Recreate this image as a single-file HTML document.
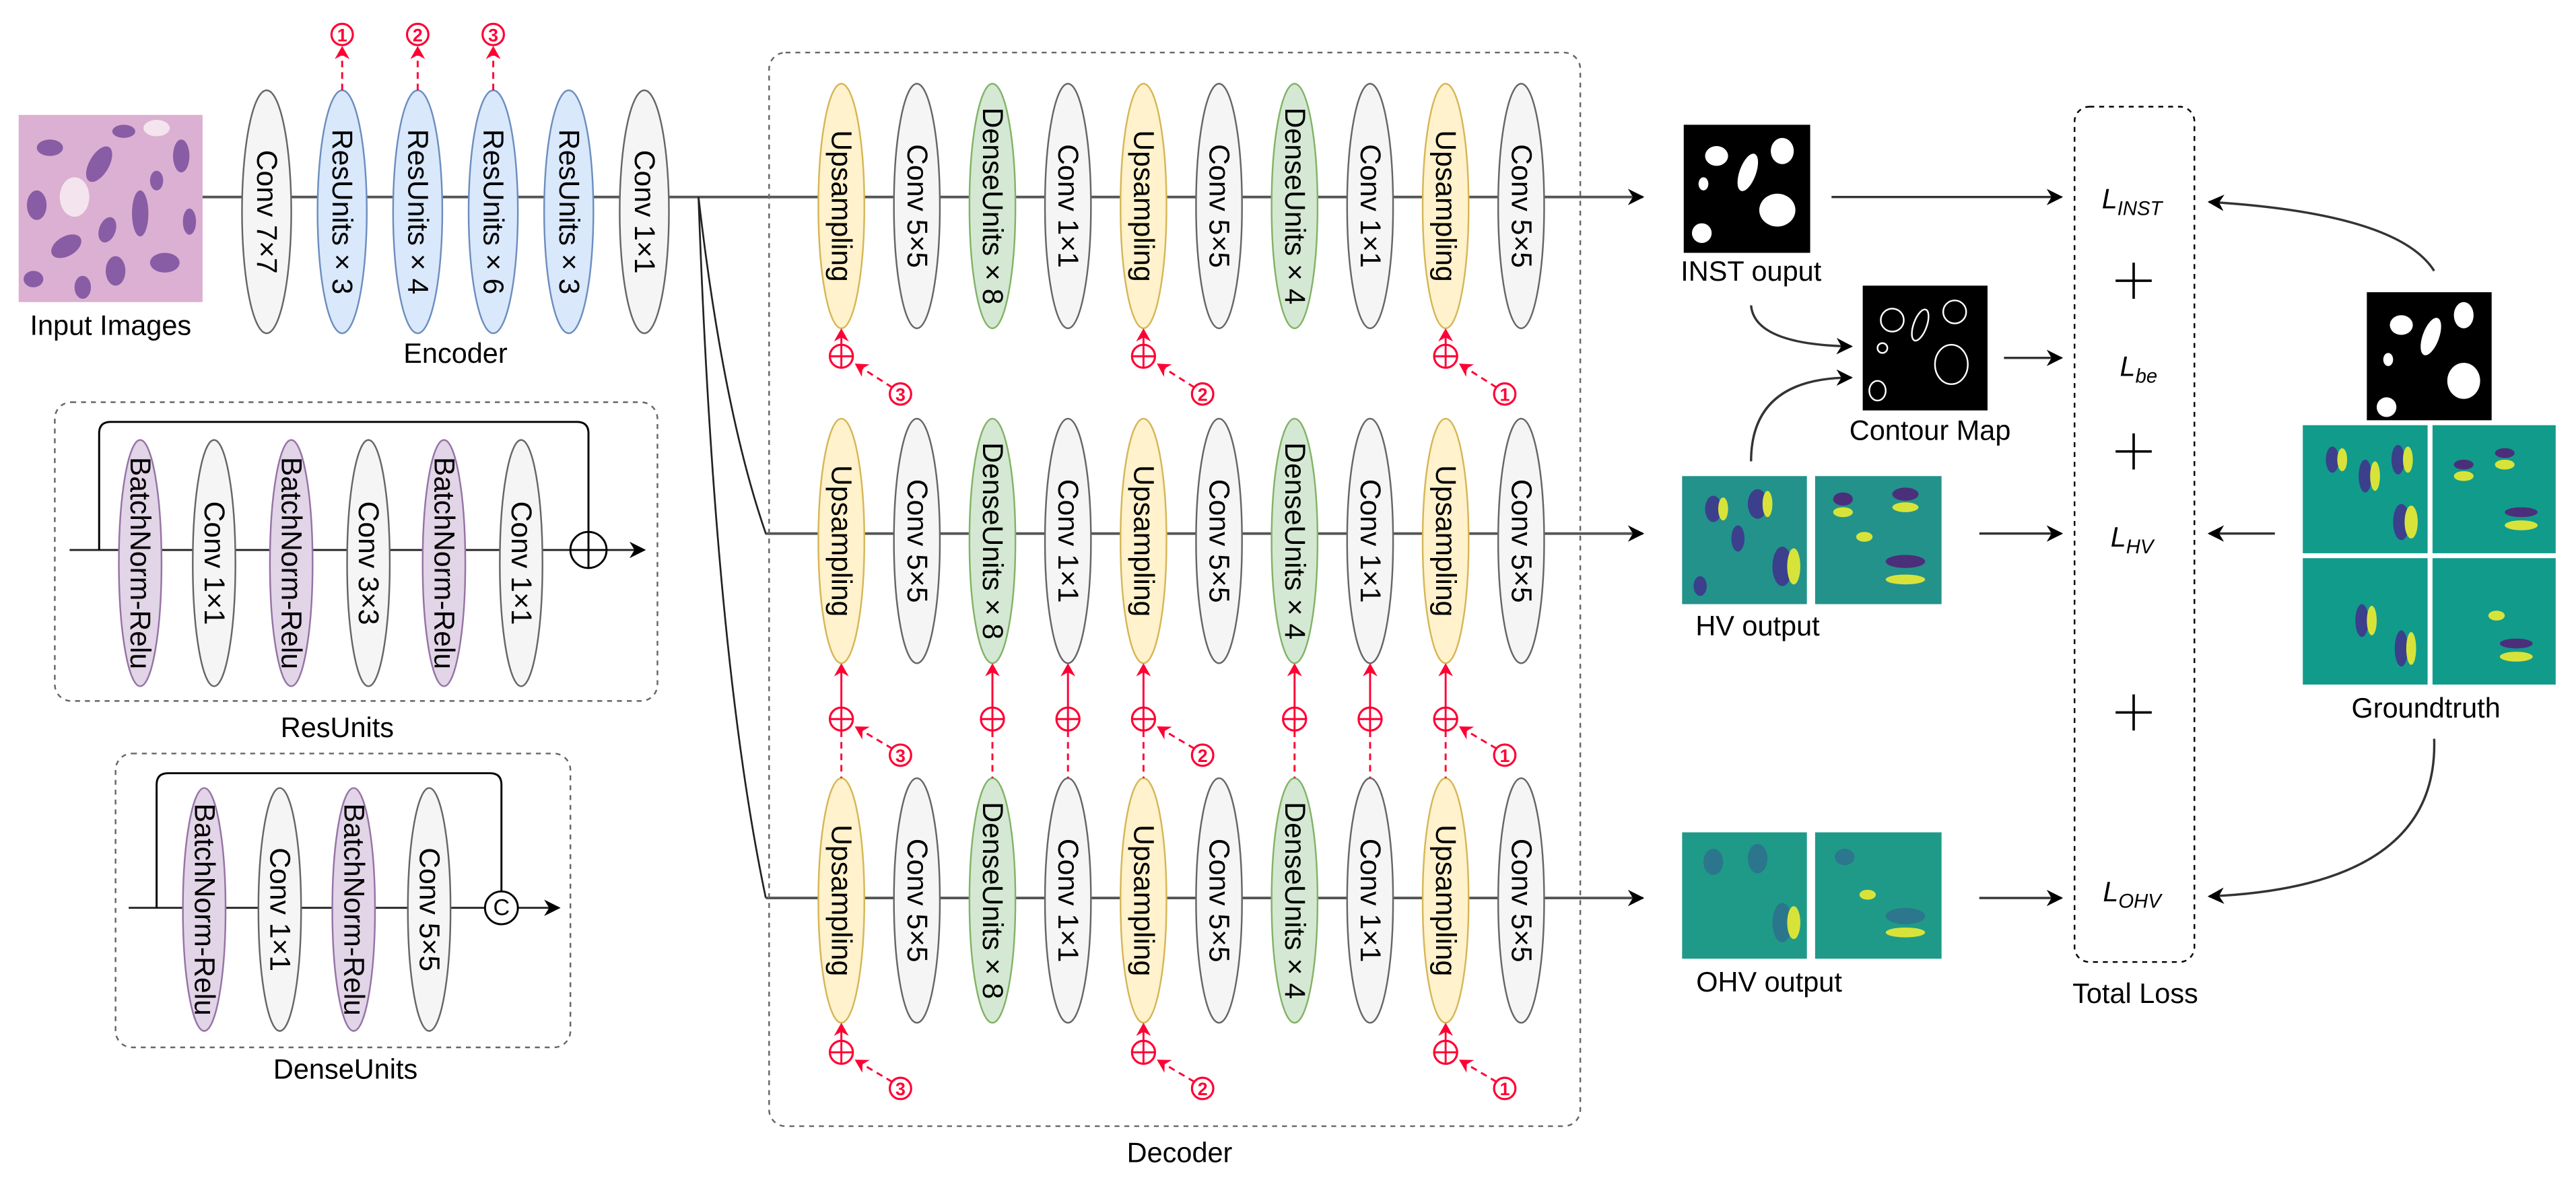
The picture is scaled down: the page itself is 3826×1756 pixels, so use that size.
<!DOCTYPE html>
<html><head><meta charset="utf-8"><style>
html,body{margin:0;padding:0;background:#fff}
svg{display:block}
text{font-family:"Liberation Sans",Arial,sans-serif}
.v{font-size:17.5px;text-anchor:middle;dominant-baseline:central}
.lb{font-size:17px;text-anchor:middle}
.g{fill:#f5f5f5;stroke:#666;stroke-width:1}
.b{fill:#dae8fc;stroke:#6c8ebf;stroke-width:1}
.y{fill:#fff2cc;stroke:#d6b656;stroke-width:1}
.gr{fill:#d5e8d4;stroke:#82b366;stroke-width:1}
.p{fill:#e1d5e7;stroke:#9673a6;stroke-width:1}
.rd{stroke:#f03;stroke-width:1.2;fill:none;stroke-dasharray:4 3}
.rc{fill:#fff;stroke:#f03;stroke-width:1.3}
.rn{fill:#f03;font-size:11px;font-weight:bold;text-anchor:middle;dominant-baseline:central}
</style></head><body>
<svg width="3826" height="1756" viewBox="0 0 1568 720" xmlns="http://www.w3.org/2000/svg">
<defs>
<marker id="ab" markerWidth="10" markerHeight="10" refX="9" refY="5" orient="auto" markerUnits="userSpaceOnUse"><path d="M0,0 L10,5 L0,10 L3,5 z" fill="#000"/></marker>
<marker id="ar" markerWidth="8" markerHeight="9" refX="7" refY="4.5" orient="auto" markerUnits="userSpaceOnUse"><path d="M0,0 L8,4.5 L0,9 L2.5,4.5 z" fill="#f03"/></marker>
<g id="plus"><circle r="7" class="rc"/><path d="M-7,0H7M0,-7V7" stroke="#f03" stroke-width="1.2"/></g>
</defs>

<!-- Input image -->
<rect x="11" y="70" width="112" height="114" fill="#dcb0d2"/>
<g fill="#7a4f9e" opacity="0.85">
<ellipse cx="30" cy="90" rx="8" ry="5"/><ellipse cx="60" cy="100" rx="6" ry="12" transform="rotate(30 60 100)"/>
<ellipse cx="85" cy="130" rx="5" ry="14"/><ellipse cx="100" cy="160" rx="9" ry="6"/>
<ellipse cx="40" cy="150" rx="10" ry="6" transform="rotate(-30 40 150)"/><ellipse cx="110" cy="95" rx="5" ry="10"/>
<ellipse cx="70" cy="165" rx="6" ry="9"/><ellipse cx="22" cy="125" rx="6" ry="9"/><ellipse cx="75" cy="80" rx="7" ry="4"/>
<ellipse cx="50" cy="175" rx="5" ry="7"/><ellipse cx="115" cy="135" rx="4" ry="8"/><ellipse cx="95" cy="110" rx="4" ry="6"/>
<ellipse cx="20" cy="170" rx="6" ry="5"/><ellipse cx="65" cy="140" rx="5" ry="8" transform="rotate(20 65 140)"/>
</g>
<g fill="#f3e4ee"><ellipse cx="45" cy="120" rx="9" ry="12"/><ellipse cx="95" cy="78" rx="8" ry="5"/></g>
<text x="67" y="204" class="lb">Input Images</text>

<!-- Encoder -->
<line x1="123" y1="120" x2="1000" y2="120" stroke="#555" stroke-width="1.6" marker-end="url(#ab)"/>
<ellipse cx="162" cy="129" rx="15" ry="74" class="g"/><text class="v" transform="translate(162,129) rotate(90)">Conv 7×7</text>
<ellipse cx="208" cy="129" rx="15" ry="74" class="b"/><text class="v" transform="translate(208,129) rotate(90)">ResUnits × 3</text>
<ellipse cx="254" cy="129" rx="15" ry="74" class="b"/><text class="v" transform="translate(254,129) rotate(90)">ResUnits × 4</text>
<ellipse cx="300" cy="129" rx="15" ry="74" class="b"/><text class="v" transform="translate(300,129) rotate(90)">ResUnits × 6</text>
<ellipse cx="346" cy="129" rx="15" ry="74" class="b"/><text class="v" transform="translate(346,129) rotate(90)">ResUnits × 3</text>
<ellipse cx="392" cy="129" rx="15" ry="74" class="g"/><text class="v" transform="translate(392,129) rotate(90)">Conv 1×1</text>
<text x="277" y="221" class="lb">Encoder</text>
<g>
<line x1="208" y1="55" x2="208" y2="29" class="rd" marker-end="url(#ar)"/><circle cx="208" cy="21" r="6.5" class="rc"/><text x="208" y="21.5" class="rn">1</text>
<line x1="254" y1="55" x2="254" y2="29" class="rd" marker-end="url(#ar)"/><circle cx="254" cy="21" r="6.5" class="rc"/><text x="254" y="21.5" class="rn">2</text>
<line x1="300" y1="55" x2="300" y2="29" class="rd" marker-end="url(#ar)"/><circle cx="300" cy="21" r="6.5" class="rc"/><text x="300" y="21.5" class="rn">3</text>
</g>

<!-- branches -->
<path d="M425,120 Q440,250 466,325 L1000,325" fill="none" stroke="#222" stroke-width="1.1"/>
<path d="M425,120 Q435,400 466,547" fill="none" stroke="#222" stroke-width="1.1"/>
<line x1="466" y1="325" x2="1000" y2="325" stroke="#555" stroke-width="1.6" marker-end="url(#ab)"/>
<line x1="466" y1="547" x2="1000" y2="547" stroke="#555" stroke-width="1.6" marker-end="url(#ab)"/>

<!-- Decoder box -->
<rect x="468" y="32" width="494" height="654" rx="10" fill="none" stroke="#666" stroke-width="1" stroke-dasharray="3 3"/>
<text x="718" y="708" class="lb">Decoder</text>

<!-- Row 1 -->
<g>
<ellipse cx="512" cy="125.5" rx="14" ry="74.5" class="y"/><text class="v" transform="translate(512,125.5) rotate(90)">Upsampling</text>
<ellipse cx="558" cy="125.5" rx="14" ry="74.5" class="g"/><text class="v" transform="translate(558,125.5) rotate(90)">Conv 5×5</text>
<ellipse cx="604" cy="125.5" rx="14" ry="74.5" class="gr"/><text class="v" transform="translate(604,125.5) rotate(90)">DenseUnits × 8</text>
<ellipse cx="650" cy="125.5" rx="14" ry="74.5" class="g"/><text class="v" transform="translate(650,125.5) rotate(90)">Conv 1×1</text>
<ellipse cx="696" cy="125.5" rx="14" ry="74.5" class="y"/><text class="v" transform="translate(696,125.5) rotate(90)">Upsampling</text>
<ellipse cx="742" cy="125.5" rx="14" ry="74.5" class="g"/><text class="v" transform="translate(742,125.5) rotate(90)">Conv 5×5</text>
<ellipse cx="788" cy="125.5" rx="14" ry="74.5" class="gr"/><text class="v" transform="translate(788,125.5) rotate(90)">DenseUnits × 4</text>
<ellipse cx="834" cy="125.5" rx="14" ry="74.5" class="g"/><text class="v" transform="translate(834,125.5) rotate(90)">Conv 1×1</text>
<ellipse cx="880" cy="125.5" rx="14" ry="74.5" class="y"/><text class="v" transform="translate(880,125.5) rotate(90)">Upsampling</text>
<ellipse cx="926" cy="125.5" rx="14" ry="74.5" class="g"/><text class="v" transform="translate(926,125.5) rotate(90)">Conv 5×5</text>
</g>
<!-- Row 2 -->
<g>
<ellipse cx="512" cy="329.5" rx="14" ry="74.5" class="y"/><text class="v" transform="translate(512,329.5) rotate(90)">Upsampling</text>
<ellipse cx="558" cy="329.5" rx="14" ry="74.5" class="g"/><text class="v" transform="translate(558,329.5) rotate(90)">Conv 5×5</text>
<ellipse cx="604" cy="329.5" rx="14" ry="74.5" class="gr"/><text class="v" transform="translate(604,329.5) rotate(90)">DenseUnits × 8</text>
<ellipse cx="650" cy="329.5" rx="14" ry="74.5" class="g"/><text class="v" transform="translate(650,329.5) rotate(90)">Conv 1×1</text>
<ellipse cx="696" cy="329.5" rx="14" ry="74.5" class="y"/><text class="v" transform="translate(696,329.5) rotate(90)">Upsampling</text>
<ellipse cx="742" cy="329.5" rx="14" ry="74.5" class="g"/><text class="v" transform="translate(742,329.5) rotate(90)">Conv 5×5</text>
<ellipse cx="788" cy="329.5" rx="14" ry="74.5" class="gr"/><text class="v" transform="translate(788,329.5) rotate(90)">DenseUnits × 4</text>
<ellipse cx="834" cy="329.5" rx="14" ry="74.5" class="g"/><text class="v" transform="translate(834,329.5) rotate(90)">Conv 1×1</text>
<ellipse cx="880" cy="329.5" rx="14" ry="74.5" class="y"/><text class="v" transform="translate(880,329.5) rotate(90)">Upsampling</text>
<ellipse cx="926" cy="329.5" rx="14" ry="74.5" class="g"/><text class="v" transform="translate(926,329.5) rotate(90)">Conv 5×5</text>
</g>
<!-- Row 3 -->
<g>
<ellipse cx="512" cy="548.5" rx="14" ry="74.5" class="y"/><text class="v" transform="translate(512,548.5) rotate(90)">Upsampling</text>
<ellipse cx="558" cy="548.5" rx="14" ry="74.5" class="g"/><text class="v" transform="translate(558,548.5) rotate(90)">Conv 5×5</text>
<ellipse cx="604" cy="548.5" rx="14" ry="74.5" class="gr"/><text class="v" transform="translate(604,548.5) rotate(90)">DenseUnits × 8</text>
<ellipse cx="650" cy="548.5" rx="14" ry="74.5" class="g"/><text class="v" transform="translate(650,548.5) rotate(90)">Conv 1×1</text>
<ellipse cx="696" cy="548.5" rx="14" ry="74.5" class="y"/><text class="v" transform="translate(696,548.5) rotate(90)">Upsampling</text>
<ellipse cx="742" cy="548.5" rx="14" ry="74.5" class="g"/><text class="v" transform="translate(742,548.5) rotate(90)">Conv 5×5</text>
<ellipse cx="788" cy="548.5" rx="14" ry="74.5" class="gr"/><text class="v" transform="translate(788,548.5) rotate(90)">DenseUnits × 4</text>
<ellipse cx="834" cy="548.5" rx="14" ry="74.5" class="g"/><text class="v" transform="translate(834,548.5) rotate(90)">Conv 1×1</text>
<ellipse cx="880" cy="548.5" rx="14" ry="74.5" class="y"/><text class="v" transform="translate(880,548.5) rotate(90)">Upsampling</text>
<ellipse cx="926" cy="548.5" rx="14" ry="74.5" class="g"/><text class="v" transform="translate(926,548.5) rotate(90)">Conv 5×5</text>
</g>

<!-- Red plus connectors -->
<g>
<line x1="512" y1="210" x2="512" y2="201" stroke="#f03" stroke-width="1.2" marker-end="url(#ar)"/><use href="#plus" x="512" y="217"/>
<line x1="696" y1="210" x2="696" y2="201" stroke="#f03" stroke-width="1.2" marker-end="url(#ar)"/><use href="#plus" x="696" y="217"/>
<line x1="880" y1="210" x2="880" y2="201" stroke="#f03" stroke-width="1.2" marker-end="url(#ar)"/><use href="#plus" x="880" y="217"/>
<line x1="543" y1="236" x2="521" y2="222" class="rd" marker-end="url(#ar)"/><circle cx="548" cy="240" r="6.5" class="rc"/><text x="548" y="240.5" class="rn">3</text>
<line x1="727" y1="236" x2="705" y2="222" class="rd" marker-end="url(#ar)"/><circle cx="732" cy="240" r="6.5" class="rc"/><text x="732" y="240.5" class="rn">2</text>
<line x1="911" y1="236" x2="889" y2="222" class="rd" marker-end="url(#ar)"/><circle cx="916" cy="240" r="6.5" class="rc"/><text x="916" y="240.5" class="rn">1</text>
<line x1="512" y1="445" x2="512" y2="474" class="rd"/><line x1="512" y1="431" x2="512" y2="405" stroke="#f03" stroke-width="1.2" marker-end="url(#ar)"/><use href="#plus" x="512" y="438"/>
<line x1="604" y1="445" x2="604" y2="474" class="rd"/><line x1="604" y1="431" x2="604" y2="405" stroke="#f03" stroke-width="1.2" marker-end="url(#ar)"/><use href="#plus" x="604" y="438"/>
<line x1="650" y1="445" x2="650" y2="474" class="rd"/><line x1="650" y1="431" x2="650" y2="405" stroke="#f03" stroke-width="1.2" marker-end="url(#ar)"/><use href="#plus" x="650" y="438"/>
<line x1="696" y1="445" x2="696" y2="474" class="rd"/><line x1="696" y1="431" x2="696" y2="405" stroke="#f03" stroke-width="1.2" marker-end="url(#ar)"/><use href="#plus" x="696" y="438"/>
<line x1="788" y1="445" x2="788" y2="474" class="rd"/><line x1="788" y1="431" x2="788" y2="405" stroke="#f03" stroke-width="1.2" marker-end="url(#ar)"/><use href="#plus" x="788" y="438"/>
<line x1="834" y1="445" x2="834" y2="474" class="rd"/><line x1="834" y1="431" x2="834" y2="405" stroke="#f03" stroke-width="1.2" marker-end="url(#ar)"/><use href="#plus" x="834" y="438"/>
<line x1="880" y1="445" x2="880" y2="474" class="rd"/><line x1="880" y1="431" x2="880" y2="405" stroke="#f03" stroke-width="1.2" marker-end="url(#ar)"/><use href="#plus" x="880" y="438"/>
<line x1="543" y1="456" x2="521" y2="443" class="rd" marker-end="url(#ar)"/><circle cx="548" cy="460" r="6.5" class="rc"/><text x="548" y="460.5" class="rn">3</text>
<line x1="727" y1="456" x2="705" y2="443" class="rd" marker-end="url(#ar)"/><circle cx="732" cy="460" r="6.5" class="rc"/><text x="732" y="460.5" class="rn">2</text>
<line x1="911" y1="456" x2="889" y2="443" class="rd" marker-end="url(#ar)"/><circle cx="916" cy="460" r="6.5" class="rc"/><text x="916" y="460.5" class="rn">1</text>
<line x1="512" y1="634" x2="512" y2="624" stroke="#f03" stroke-width="1.2" marker-end="url(#ar)"/><use href="#plus" x="512" y="641"/>
<line x1="696" y1="634" x2="696" y2="624" stroke="#f03" stroke-width="1.2" marker-end="url(#ar)"/><use href="#plus" x="696" y="641"/>
<line x1="880" y1="634" x2="880" y2="624" stroke="#f03" stroke-width="1.2" marker-end="url(#ar)"/><use href="#plus" x="880" y="641"/>
<line x1="543" y1="659" x2="521" y2="646" class="rd" marker-end="url(#ar)"/><circle cx="548" cy="663" r="6.5" class="rc"/><text x="548" y="663.5" class="rn">3</text>
<line x1="727" y1="659" x2="705" y2="646" class="rd" marker-end="url(#ar)"/><circle cx="732" cy="663" r="6.5" class="rc"/><text x="732" y="663.5" class="rn">2</text>
<line x1="911" y1="659" x2="889" y2="646" class="rd" marker-end="url(#ar)"/><circle cx="916" cy="663" r="6.5" class="rc"/><text x="916" y="663.5" class="rn">1</text>
</g>

<!-- ResUnits box -->
<rect x="33" y="245" width="367" height="182" rx="10" fill="none" stroke="#666" stroke-dasharray="3 3"/>
<line x1="42" y1="335" x2="392" y2="335" stroke="#222" stroke-width="1.2" marker-end="url(#ab)"/>
<path d="M60,335 V264 Q60,257 67,257 H351 Q358,257 358,264 V335" fill="none" stroke="#000" stroke-width="1.2"/>
<ellipse cx="85" cy="343" rx="13" ry="75" class="p"/><text class="v" transform="translate(85,343) rotate(90)">BatchNorm-Relu</text>
<ellipse cx="130" cy="343" rx="13" ry="75" class="g"/><text class="v" transform="translate(130,343) rotate(90)">Conv 1×1</text>
<ellipse cx="177" cy="343" rx="13" ry="75" class="p"/><text class="v" transform="translate(177,343) rotate(90)">BatchNorm-Relu</text>
<ellipse cx="224" cy="343" rx="13" ry="75" class="g"/><text class="v" transform="translate(224,343) rotate(90)">Conv 3×3</text>
<ellipse cx="270" cy="343" rx="13" ry="75" class="p"/><text class="v" transform="translate(270,343) rotate(90)">BatchNorm-Relu</text>
<ellipse cx="317" cy="343" rx="13" ry="75" class="g"/><text class="v" transform="translate(317,343) rotate(90)">Conv 1×1</text>
<circle cx="358" cy="335" r="11" fill="#fff" stroke="#000" stroke-width="1.2"/><path d="M347,335H369M358,324V346" stroke="#000" stroke-width="1.2"/>
<text x="205" y="449" class="lb">ResUnits</text>

<!-- DenseUnits box -->
<rect x="70" y="459" width="277" height="179" rx="10" fill="none" stroke="#666" stroke-dasharray="3 3"/>
<line x1="78" y1="553" x2="340" y2="553" stroke="#222" stroke-width="1.2" marker-end="url(#ab)"/>
<path d="M95,553 V478 Q95,471 102,471 H298 Q305,471 305,478 V553" fill="none" stroke="#000" stroke-width="1.2"/>
<ellipse cx="124" cy="554" rx="13" ry="74" class="p"/><text class="v" transform="translate(124,554) rotate(90)">BatchNorm-Relu</text>
<ellipse cx="170" cy="554" rx="13" ry="74" class="g"/><text class="v" transform="translate(170,554) rotate(90)">Conv 1×1</text>
<ellipse cx="215" cy="554" rx="13" ry="74" class="p"/><text class="v" transform="translate(215,554) rotate(90)">BatchNorm-Relu</text>
<ellipse cx="261" cy="554" rx="13" ry="74" class="g"/><text class="v" transform="translate(261,554) rotate(90)">Conv 5×5</text>
<circle cx="305" cy="553" r="10" fill="#fff" stroke="#000" stroke-width="1.2"/><text x="305" y="553" font-size="14" text-anchor="middle" dominant-baseline="central">C</text>
<text x="210" y="657" class="lb">DenseUnits</text>

<!-- Right side: outputs -->
<rect x="1025" y="76" width="77" height="78" fill="#000"/>
<g fill="#fff"><ellipse cx="1045" cy="95" rx="7" ry="6"/><ellipse cx="1064" cy="105" rx="5" ry="12" transform="rotate(20 1064 105)"/><ellipse cx="1085" cy="92" rx="7" ry="8"/><ellipse cx="1082" cy="128" rx="11" ry="10"/><ellipse cx="1036" cy="142" rx="6" ry="6"/><ellipse cx="1037" cy="112" rx="3" ry="4"/></g>
<text x="1066" y="171" class="lb">INST ouput</text>
<rect x="1134" y="174" width="76" height="76" fill="#000"/>
<g fill="none" stroke="#fff" stroke-width="1"><ellipse cx="1152" cy="195" rx="7" ry="7"/><ellipse cx="1169" cy="198" rx="4" ry="10" transform="rotate(20 1169 198)"/><ellipse cx="1190" cy="190" rx="7" ry="7"/><ellipse cx="1188" cy="222" rx="10" ry="12"/><ellipse cx="1143" cy="238" rx="5" ry="6"/><circle cx="1146" cy="212" r="3"/></g>
<text x="1175" y="268" class="lb">Contour Map</text>

<rect x="1024" y="290" width="76" height="78" fill="#23928a"/><rect x="1105" y="290" width="77" height="78" fill="#23928a"/>
<g fill="#3b3f8c"><ellipse cx="1043" cy="310" rx="5" ry="8"/><ellipse cx="1070" cy="307" rx="6" ry="9"/><ellipse cx="1085" cy="345" rx="6" ry="12"/><ellipse cx="1035" cy="357" rx="4" ry="6"/><ellipse cx="1058" cy="328" rx="4" ry="8"/></g>
<g fill="#d8e33a"><ellipse cx="1049" cy="310" rx="3" ry="7"/><ellipse cx="1076" cy="307" rx="3" ry="8"/><ellipse cx="1092" cy="345" rx="4" ry="11"/></g>
<g fill="#4b2f7a"><ellipse cx="1122" cy="304" rx="6" ry="4"/><ellipse cx="1160" cy="301" rx="8" ry="4"/><ellipse cx="1160" cy="342" rx="12" ry="4"/></g>
<g fill="#d8e33a"><ellipse cx="1122" cy="312" rx="6" ry="3"/><ellipse cx="1160" cy="309" rx="8" ry="3"/><ellipse cx="1160" cy="353" rx="12" ry="3"/><ellipse cx="1135" cy="327" rx="5" ry="3"/></g>
<text x="1070" y="387" class="lb">HV output</text>

<rect x="1024" y="507" width="76" height="77" fill="#1f9a88"/><rect x="1105" y="507" width="77" height="77" fill="#1f9a88"/>
<g fill="#2f6e8e" opacity="0.8"><ellipse cx="1043" cy="525" rx="6" ry="8"/><ellipse cx="1070" cy="523" rx="6" ry="9"/><ellipse cx="1085" cy="562" rx="6" ry="12"/><ellipse cx="1123" cy="522" rx="6" ry="5"/><ellipse cx="1160" cy="558" rx="12" ry="5"/></g>
<g fill="#d8e33a"><ellipse cx="1092" cy="562" rx="4" ry="10"/><ellipse cx="1160" cy="568" rx="12" ry="3"/><ellipse cx="1137" cy="545" rx="5" ry="3"/></g>
<text x="1077" y="604" class="lb">OHV output</text>

<!-- Groundtruth -->
<rect x="1441" y="178" width="76" height="78" fill="#000"/>
<g fill="#fff"><ellipse cx="1462" cy="198" rx="7" ry="6"/><ellipse cx="1480" cy="205" rx="5" ry="12" transform="rotate(20 1480 205)"/><ellipse cx="1500" cy="192" rx="6" ry="8"/><ellipse cx="1500" cy="232" rx="10" ry="11"/><ellipse cx="1453" cy="248" rx="6" ry="6"/><ellipse cx="1454" cy="219" rx="3" ry="4"/></g>
<rect x="1401" y="258" width="156" height="160" fill="#fff"/>
<rect x="1402" y="259" width="76" height="78" fill="#119b8b"/><rect x="1481" y="259" width="75" height="78" fill="#119b8b"/>
<rect x="1402" y="340" width="76" height="77" fill="#119b8b"/><rect x="1481" y="340" width="75" height="77" fill="#119b8b"/>
<g fill="#3b3f8c"><ellipse cx="1420" cy="280" rx="4" ry="8"/><ellipse cx="1440" cy="290" rx="4" ry="10"/><ellipse cx="1460" cy="280" rx="4" ry="9"/><ellipse cx="1462" cy="318" rx="5" ry="11"/><ellipse cx="1438" cy="378" rx="4" ry="10"/><ellipse cx="1462" cy="395" rx="4" ry="11"/></g>
<g fill="#d8e33a"><ellipse cx="1426" cy="280" rx="3" ry="7"/><ellipse cx="1446" cy="290" rx="3" ry="9"/><ellipse cx="1466" cy="280" rx="3" ry="8"/><ellipse cx="1468" cy="318" rx="4" ry="10"/><ellipse cx="1444" cy="378" rx="3" ry="9"/><ellipse cx="1468" cy="395" rx="3" ry="10"/></g>
<g fill="#d8e33a"><ellipse cx="1500" cy="290" rx="6" ry="3"/><ellipse cx="1525" cy="283" rx="6" ry="3"/><ellipse cx="1535" cy="320" rx="10" ry="3"/><ellipse cx="1520" cy="375" rx="5" ry="3"/><ellipse cx="1532" cy="400" rx="10" ry="3"/></g>
<g fill="#4b2f7a"><ellipse cx="1500" cy="283" rx="6" ry="3"/><ellipse cx="1525" cy="276" rx="6" ry="3"/><ellipse cx="1535" cy="312" rx="10" ry="3"/><ellipse cx="1532" cy="392" rx="10" ry="3"/></g>
<text x="1477" y="437" class="lb">Groundtruth</text>

<!-- Total loss -->
<rect x="1263" y="65" width="73" height="521" rx="9" fill="none" stroke="#000" stroke-dasharray="3 3"/>
<text x="1300" y="611" class="lb">Total Loss</text>
<g font-style="italic" font-size="17" text-anchor="middle">
<text x="1298" y="127">L<tspan font-size="12" dy="4">INST</tspan></text>
<text x="1302" y="229">L<tspan font-size="12" dy="4">be</tspan></text>
<text x="1298" y="333">L<tspan font-size="12" dy="4">HV</tspan></text>
<text x="1298" y="549">L<tspan font-size="12" dy="4">OHV</tspan></text>
</g>
<g stroke="#000" stroke-width="1.5"><path d="M1288,171H1310M1299,160V182"/><path d="M1288,275H1310M1299,264V286"/><path d="M1288,434H1310M1299,423V445"/></g>

<!-- Right arrows -->
<g stroke="#333" stroke-width="1.4" fill="none">
<line x1="1115" y1="120" x2="1255" y2="120" marker-end="url(#ab)"/>
<line x1="1220" y1="218" x2="1255" y2="218" marker-end="url(#ab)"/>
<line x1="1205" y1="325" x2="1255" y2="325" marker-end="url(#ab)"/>
<line x1="1205" y1="547" x2="1255" y2="547" marker-end="url(#ab)"/>
<line x1="1385" y1="325" x2="1345" y2="325" marker-end="url(#ab)"/>
<path d="M1482,165 Q1460,130 1345,123" marker-end="url(#ab)"/>
<path d="M1482,450 Q1485,540 1345,546" marker-end="url(#ab)"/>
<path d="M1066,186 Q1068,210 1127,211" marker-end="url(#ab)"/>
<path d="M1066,281 Q1066,230 1127,230" marker-end="url(#ab)"/>
</g>
</svg>
</body></html>
